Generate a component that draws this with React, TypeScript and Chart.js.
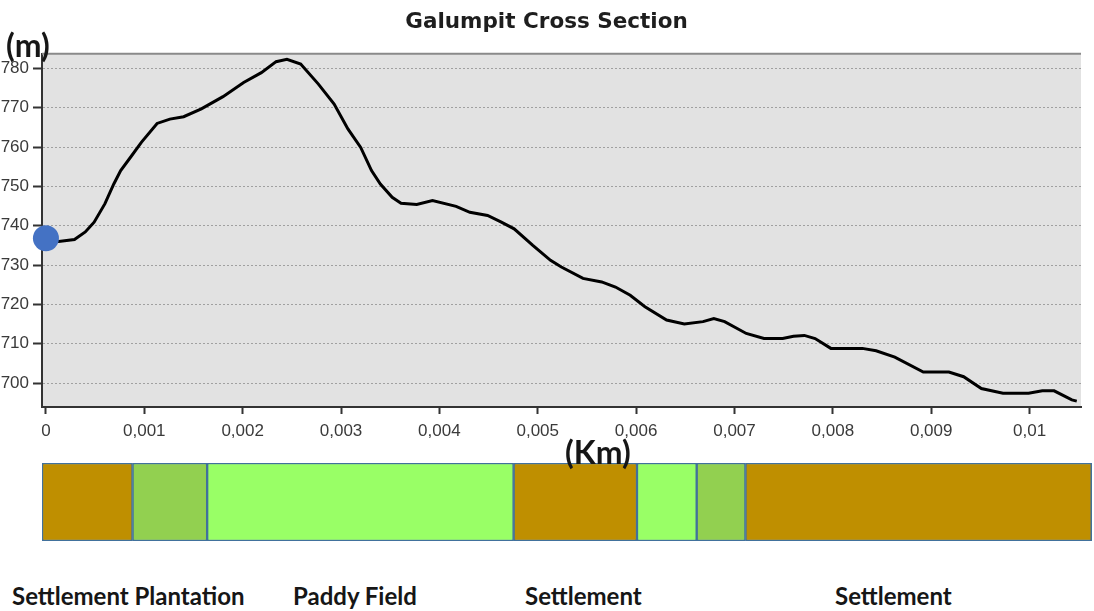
import React, { useEffect, useRef } from 'react';
import { Chart, registerables } from 'chart.js';

Chart.register(...registerables);

// ---- Elevation profile (distance in km, elevation in m) ----
const distanceKm = [
  0, 0.00013, 0.00029, 0.0004, 0.00049, 0.0006, 0.00069, 0.00076, 0.00086, 0.00097,
  0.00113, 0.00126, 0.0014, 0.00158, 0.0018, 0.00201, 0.00219, 0.00234, 0.00245, 0.00259,
  0.00277, 0.00293, 0.00307, 0.0032, 0.00331, 0.0034, 0.00352, 0.00361, 0.00377, 0.00393,
  0.00417, 0.00431, 0.00449, 0.00463, 0.00476, 0.00495, 0.00513, 0.00524, 0.00546, 0.00565,
  0.00579, 0.00594, 0.00609, 0.00631, 0.00649, 0.00668, 0.00679, 0.0069, 0.00712, 0.0073,
  0.00749, 0.0076, 0.00771, 0.00782, 0.00798, 0.0083, 0.00844, 0.00863, 0.00892, 0.00918,
  0.00933, 0.00951, 0.00973, 0.00999, 0.01013, 0.01025, 0.01043, 0.01048,
];
const elevationM = [
  736.8, 736.0, 736.5, 738.4, 740.9, 745.6, 750.6, 754.0, 757.4, 761.2,
  766.0, 767.1, 767.7, 769.7, 772.8, 776.4, 778.9, 781.7, 782.3, 781.1,
  776.0, 770.9, 764.6, 759.9, 754.0, 750.6, 747.2, 745.7, 745.4, 746.4,
  744.9, 743.4, 742.6, 740.9, 739.2, 735.0, 731.2, 729.5, 726.6, 725.7,
  724.4, 722.3, 719.4, 716.0, 715.0, 715.6, 716.4, 715.6, 712.6, 711.3,
  711.3, 711.9, 712.1, 711.3, 708.8, 708.8, 708.2, 706.6, 702.8, 702.8,
  701.6, 698.6, 697.4, 697.4, 698.0, 698.0, 695.7, 695.4,
];

// ---- Axis ticks ----
const xTickValues = [0, 0.001, 0.002, 0.003, 0.004, 0.005, 0.006, 0.007, 0.008, 0.009, 0.01];
const xTickLabels = ['0', '0,001', '0,002', '0,003', '0,004', '0,005', '0,006', '0,007', '0,008', '0,009', '0,01'];
const yTickValues = [700, 710, 720, 730, 740, 750, 760, 770, 780];
const yTickLabels = ['700', '710', '720', '730', '740', '750', '760', '770', '780'];

// ---- Land use band (km along section) ----
const landUseNames = ['Settlement', 'Plantation', 'Paddy Field', 'Settlement', 'Paddy Field', 'Plantation', 'Settlement'];
const landUseStartKm = [-0.00004, 0.00087, 0.00162, 0.0047, 0.00594, 0.00654, 0.00703];
const landUseEndKm = [0.00087, 0.00162, 0.0047, 0.00594, 0.00654, 0.00703, 0.01051];
const bandLabels = ['Settlement Plantation', 'Paddy Field', 'Settlement', 'Settlement'];

const X_MIN = -0.00004;
const X_MAX = 0.010523;
const Y_MIN = 693.9;
const Y_MAX = 783.7;

const landUseColors: Record<string, string> = {
  Settlement: '#BF8F00',
  Plantation: '#92D050',
  'Paddy Field': '#99FF66',
};

const bandLabelLeft = [12, 293, 525, 835];

const plotBgPlugin = {
  id: 'plotBg',
  beforeDraw(chart: any) {
    const { ctx, chartArea: a } = chart;
    if (!a) return;
    ctx.save();
    ctx.fillStyle = '#e2e2e2';
    ctx.fillRect(a.left, a.top, a.right - a.left, a.bottom - a.top);
    ctx.restore();
  },
  afterDraw(chart: any) {
    const { ctx, chartArea: a } = chart;
    if (!a) return;
    ctx.save();
    ctx.strokeStyle = '#8a8a8a';
    ctx.lineWidth = 2;
    ctx.beginPath();
    ctx.moveTo(a.left, a.top);
    ctx.lineTo(a.right, a.top);
    ctx.stroke();
    ctx.restore();
  },
};

export default function App() {
  const mainRef = useRef<HTMLCanvasElement | null>(null);
  const bandRef = useRef<HTMLCanvasElement | null>(null);

  useEffect(() => {
    if (!mainRef.current || !bandRef.current) return;

    const profile = distanceKm.map((x, i) => ({ x, y: elevationM[i] }));

    const main = new Chart(mainRef.current, {
      type: 'line',
      data: {
        datasets: [
          {
            label: 'start',
            data: [{ x: distanceKm[0], y: elevationM[0] }],
            pointRadius: 13,
            pointBackgroundColor: '#4472C4',
            pointBorderColor: '#4472C4',
            pointBorderWidth: 0,
            showLine: false,
            clip: false as any,
          },
          {
            label: 'profile',
            data: profile,
            borderColor: '#000000',
            borderWidth: 3,
            pointRadius: 0,
            tension: 0,
            fill: false,
          },
        ],
      },
      options: {
        responsive: false,
        animation: false,
        layout: { padding: { left: 0, right: 1, top: 0, bottom: 0 } },
        plugins: {
          legend: { display: false },
          tooltip: { enabled: false },
          title: {
            display: true,
            text: 'Galumpit Cross Section',
            color: '#1e1e1e',
            font: { family: 'DejaVu Sans', size: 21.5, weight: 'bold' },
            padding: { top: 10, bottom: 18 },
          },
        },
        scales: {
          x: {
            type: 'linear',
            min: X_MIN,
            max: X_MAX,
            afterBuildTicks: (s: any) => {
              s.ticks = xTickValues.map((v) => ({ value: v }));
            },
            afterFit: (s: any) => {
              s.height = 43;
            },
            ticks: {
              autoSkip: false,
              maxRotation: 0,
              callback: (_v: any, i: number) => xTickLabels[i],
              color: '#3a3a3a',
              font: { family: 'Liberation Sans', size: 17 },
              padding: 7,
            },
            grid: {
              drawOnChartArea: false,
              drawTicks: true,
              tickLength: 7,
              tickColor: '#333333',
              tickWidth: 2,
            },
            border: { color: '#333333', width: 2 },
          },
          y: {
            type: 'linear',
            min: Y_MIN,
            max: Y_MAX,
            afterBuildTicks: (s: any) => {
              s.ticks = yTickValues.map((v) => ({ value: v }));
            },
            afterFit: (s: any) => {
              s.width = 42;
            },
            ticks: {
              autoSkip: false,
              callback: (_v: any, i: number) => yTickLabels[i],
              color: '#3a3a3a',
              font: { family: 'Liberation Sans', size: 17 },
              padding: 4,
            },
            grid: {
              color: '#a0a0a0',
              lineWidth: 1,
              drawTicks: true,
              tickLength: 9,
              tickColor: '#333333',
              tickWidth: 2,
              tickBorderDash: [],
            } as any,
            border: { color: '#333333', width: 2, dash: [2, 2] },
          },
        },
      },
      plugins: [plotBgPlugin],
    });

    const band = new Chart(bandRef.current, {
      type: 'bar',
      data: {
        labels: ['land use'],
        datasets: landUseNames.map((name, i) => ({
          label: name,
          data: [[landUseStartKm[i], landUseEndKm[i]]] as any,
          backgroundColor: landUseColors[name],
          borderColor: '#41719C',
          borderWidth: 1.5,
          borderSkipped: false,
          grouped: false,
          barPercentage: 1,
          categoryPercentage: 1,
        })),
      },
      options: {
        indexAxis: 'y',
        responsive: false,
        animation: false,
        layout: { padding: { left: 42, right: 1, top: 2, bottom: 2 } },
        plugins: { legend: { display: false }, tooltip: { enabled: false } },
        scales: {
          x: { type: 'linear', min: X_MIN, max: X_MAX, display: false },
          y: { display: false },
        },
      },
    });

    return () => {
      main.destroy();
      band.destroy();
    };
  }, []);

  const labelFont: React.CSSProperties = {
    position: 'absolute',
    fontFamily: 'Lato, "Open Sans", sans-serif',
    fontWeight: 700,
    color: '#161616',
    whiteSpace: 'nowrap',
  };

  return (
    <div style={{ position: 'absolute', left: 0, top: 0, width: 1094, height: 611, background: '#ffffff', overflow: 'hidden' }}>
      <canvas ref={mainRef} width={1094} height={450} style={{ position: 'absolute', left: 0, top: 0, width: 1094, height: 450 }} />
      <canvas ref={bandRef} width={1094} height={82} style={{ position: 'absolute', left: 0, top: 461, width: 1094, height: 82 }} />
      <div style={{ ...labelFont, left: 6, top: 29, fontSize: 32, lineHeight: '32px' }}>(m)</div>
      <div style={{ ...labelFont, left: 565, top: 436, fontSize: 32, lineHeight: '32px' }}>(Km)</div>
      {bandLabels.map((t, i) => (
        <div key={i} style={{ ...labelFont, left: bandLabelLeft[i], top: 584, fontSize: 24, lineHeight: '24px' }}>
          {t}
        </div>
      ))}
    </div>
  );
}
